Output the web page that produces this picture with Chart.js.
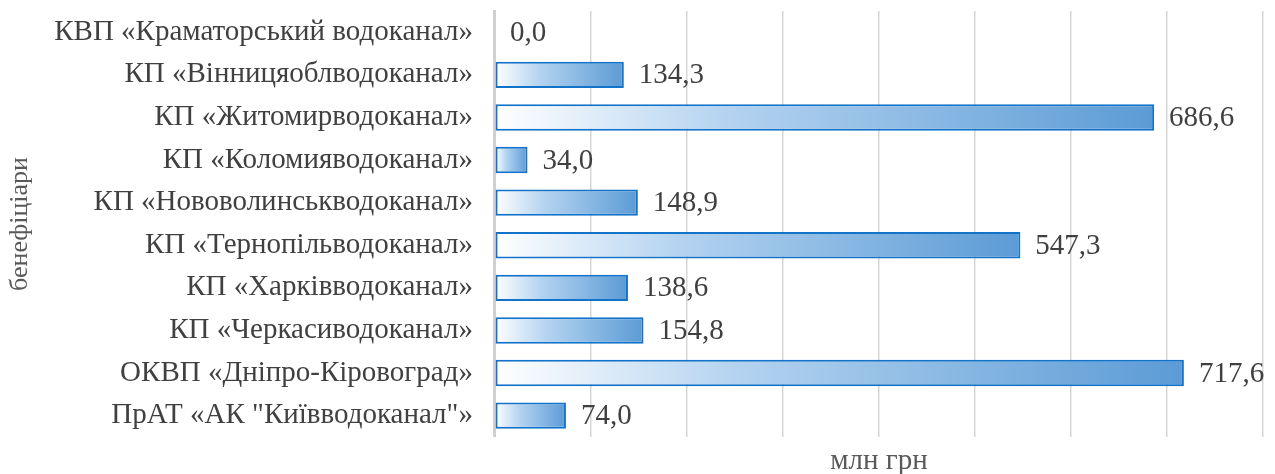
<!DOCTYPE html>
<html>
<head>
<meta charset="utf-8">
<script src="https://cdn.jsdelivr.net/npm/chart.js@4.4.1/dist/chart.umd.min.js"></script>
<style>
  html, body { margin: 0; padding: 0; background: #fff; }
  #wrap { width: 1275px; height: 474px; }
</style>
</head>
<body>
<div id="wrap"><canvas id="myBarChart"></canvas></div>
<script>
// бенефіціари
const categories = [
    'КВП «Краматорський водоканал»',
    'КП «Вінницяоблводоканал»',
    'КП «Житомирводоканал»',
    'КП «Коломияводоканал»',
    'КП «Нововолинськводоканал»',
    'КП «Тернопільводоканал»',
    'КП «Харківводоканал»',
    'КП «Черкасиводоканал»',
    'ОКВП «Дніпро-Кіровоград»',
    'ПрАТ «АК "Київводоканал"»'
];
// млн грн
const values = [0.0, 134.3, 686.6, 34.0, 148.9, 547.3, 138.6, 154.8, 717.6, 74.0];
const xMin = 0, xMax = 800, xStep = 100;

const fontFamily = '"Liberation Serif", "Times New Roman", serif';

// gradient from white at zero to blue at the bar end
function barGradient(ctx) {
    const chart = ctx.chart;
    if (!chart.chartArea || ctx.parsed === undefined) return '#9dc3e6';
    const x0 = chart.scales.x.getPixelForValue(0);
    const x1 = chart.scales.x.getPixelForValue(ctx.parsed.x);
    if (x1 - x0 < 1) return '#ffffff';
    const g = chart.ctx.createLinearGradient(x0, 0, x1, 0);
    g.addColorStop(0, '#ffffff');
    g.addColorStop(0.35, '#b4d3f0');
    g.addColorStop(1, '#5b9bd5');
    return g;
}

// підписи значень біля кінця стовпчика
const valueLabels = {
    id: 'valueLabels',
    afterDatasetsDraw(chart) {
        const ctx = chart.ctx;
        const meta = chart.getDatasetMeta(0);
        ctx.save();
        ctx.font = '29px ' + fontFamily;
        ctx.fillStyle = '#404040';
        ctx.textBaseline = 'middle';
        ctx.textAlign = 'left';
        meta.data.forEach((bar, i) => {
            const txt = values[i].toFixed(1).replace('.', ',');
            ctx.fillText(txt, bar.x + 15, bar.y + 1);
        });
        ctx.restore();
    }
};

document.addEventListener('DOMContentLoaded', function () {
    const ctx = document.getElementById('myBarChart').getContext('2d');
    new Chart(ctx, {
        type: 'bar',
        data: {
            labels: categories,
            datasets: [{
                data: values,
                backgroundColor: barGradient,
                borderColor: '#1273c9',
                borderWidth: 2,
                borderSkipped: false,
                barPercentage: 0.62,
                categoryPercentage: 1
            }]
        },
        plugins: [valueLabels],
        options: {
            indexAxis: 'y',
            responsive: true,
            maintainAspectRatio: false,
            animation: false,
            layout: { padding: { top: 11, right: 12, left: 0, bottom: 0 } },
            plugins: {
                legend: { display: false },
                tooltip: { enabled: false }
            },
            scales: {
                x: {
                    min: xMin,
                    max: xMax,
                    ticks: { display: false, stepSize: xStep },
                    grid: { color: '#d6d6d6', lineWidth: 1.5, drawTicks: false },
                    border: { display: false },
                    title: {
                        display: true,
                        text: 'млн грн',
                        color: '#595959',
                        font: { family: fontFamily, size: 29, lineHeight: 0.9 },
                        padding: { top: 11, bottom: 0 }
                    }
                },
                y: {
                    ticks: {
                        color: '#404040',
                        font: { family: fontFamily, size: 29 },
                        padding: 22
                    },
                    grid: { display: false, drawTicks: false },
                    border: { display: true, color: '#d0d0d0', width: 3 },
                    title: {
                        display: true,
                        text: 'бенефіціари',
                        color: '#595959',
                        font: { family: fontFamily, size: 26, lineHeight: 1.2 },
                        padding: { top: 5, bottom: 0 }
                    },
                    afterFit(scale) {
                        // без зайвого відступу зверху/знизу від підписів
                        scale.paddingTop = 0;
                        scale.paddingBottom = 0;
                        scale.width -= 4;
                    }
                }
            }
        }
    });
});
</script>
</body>
</html>
